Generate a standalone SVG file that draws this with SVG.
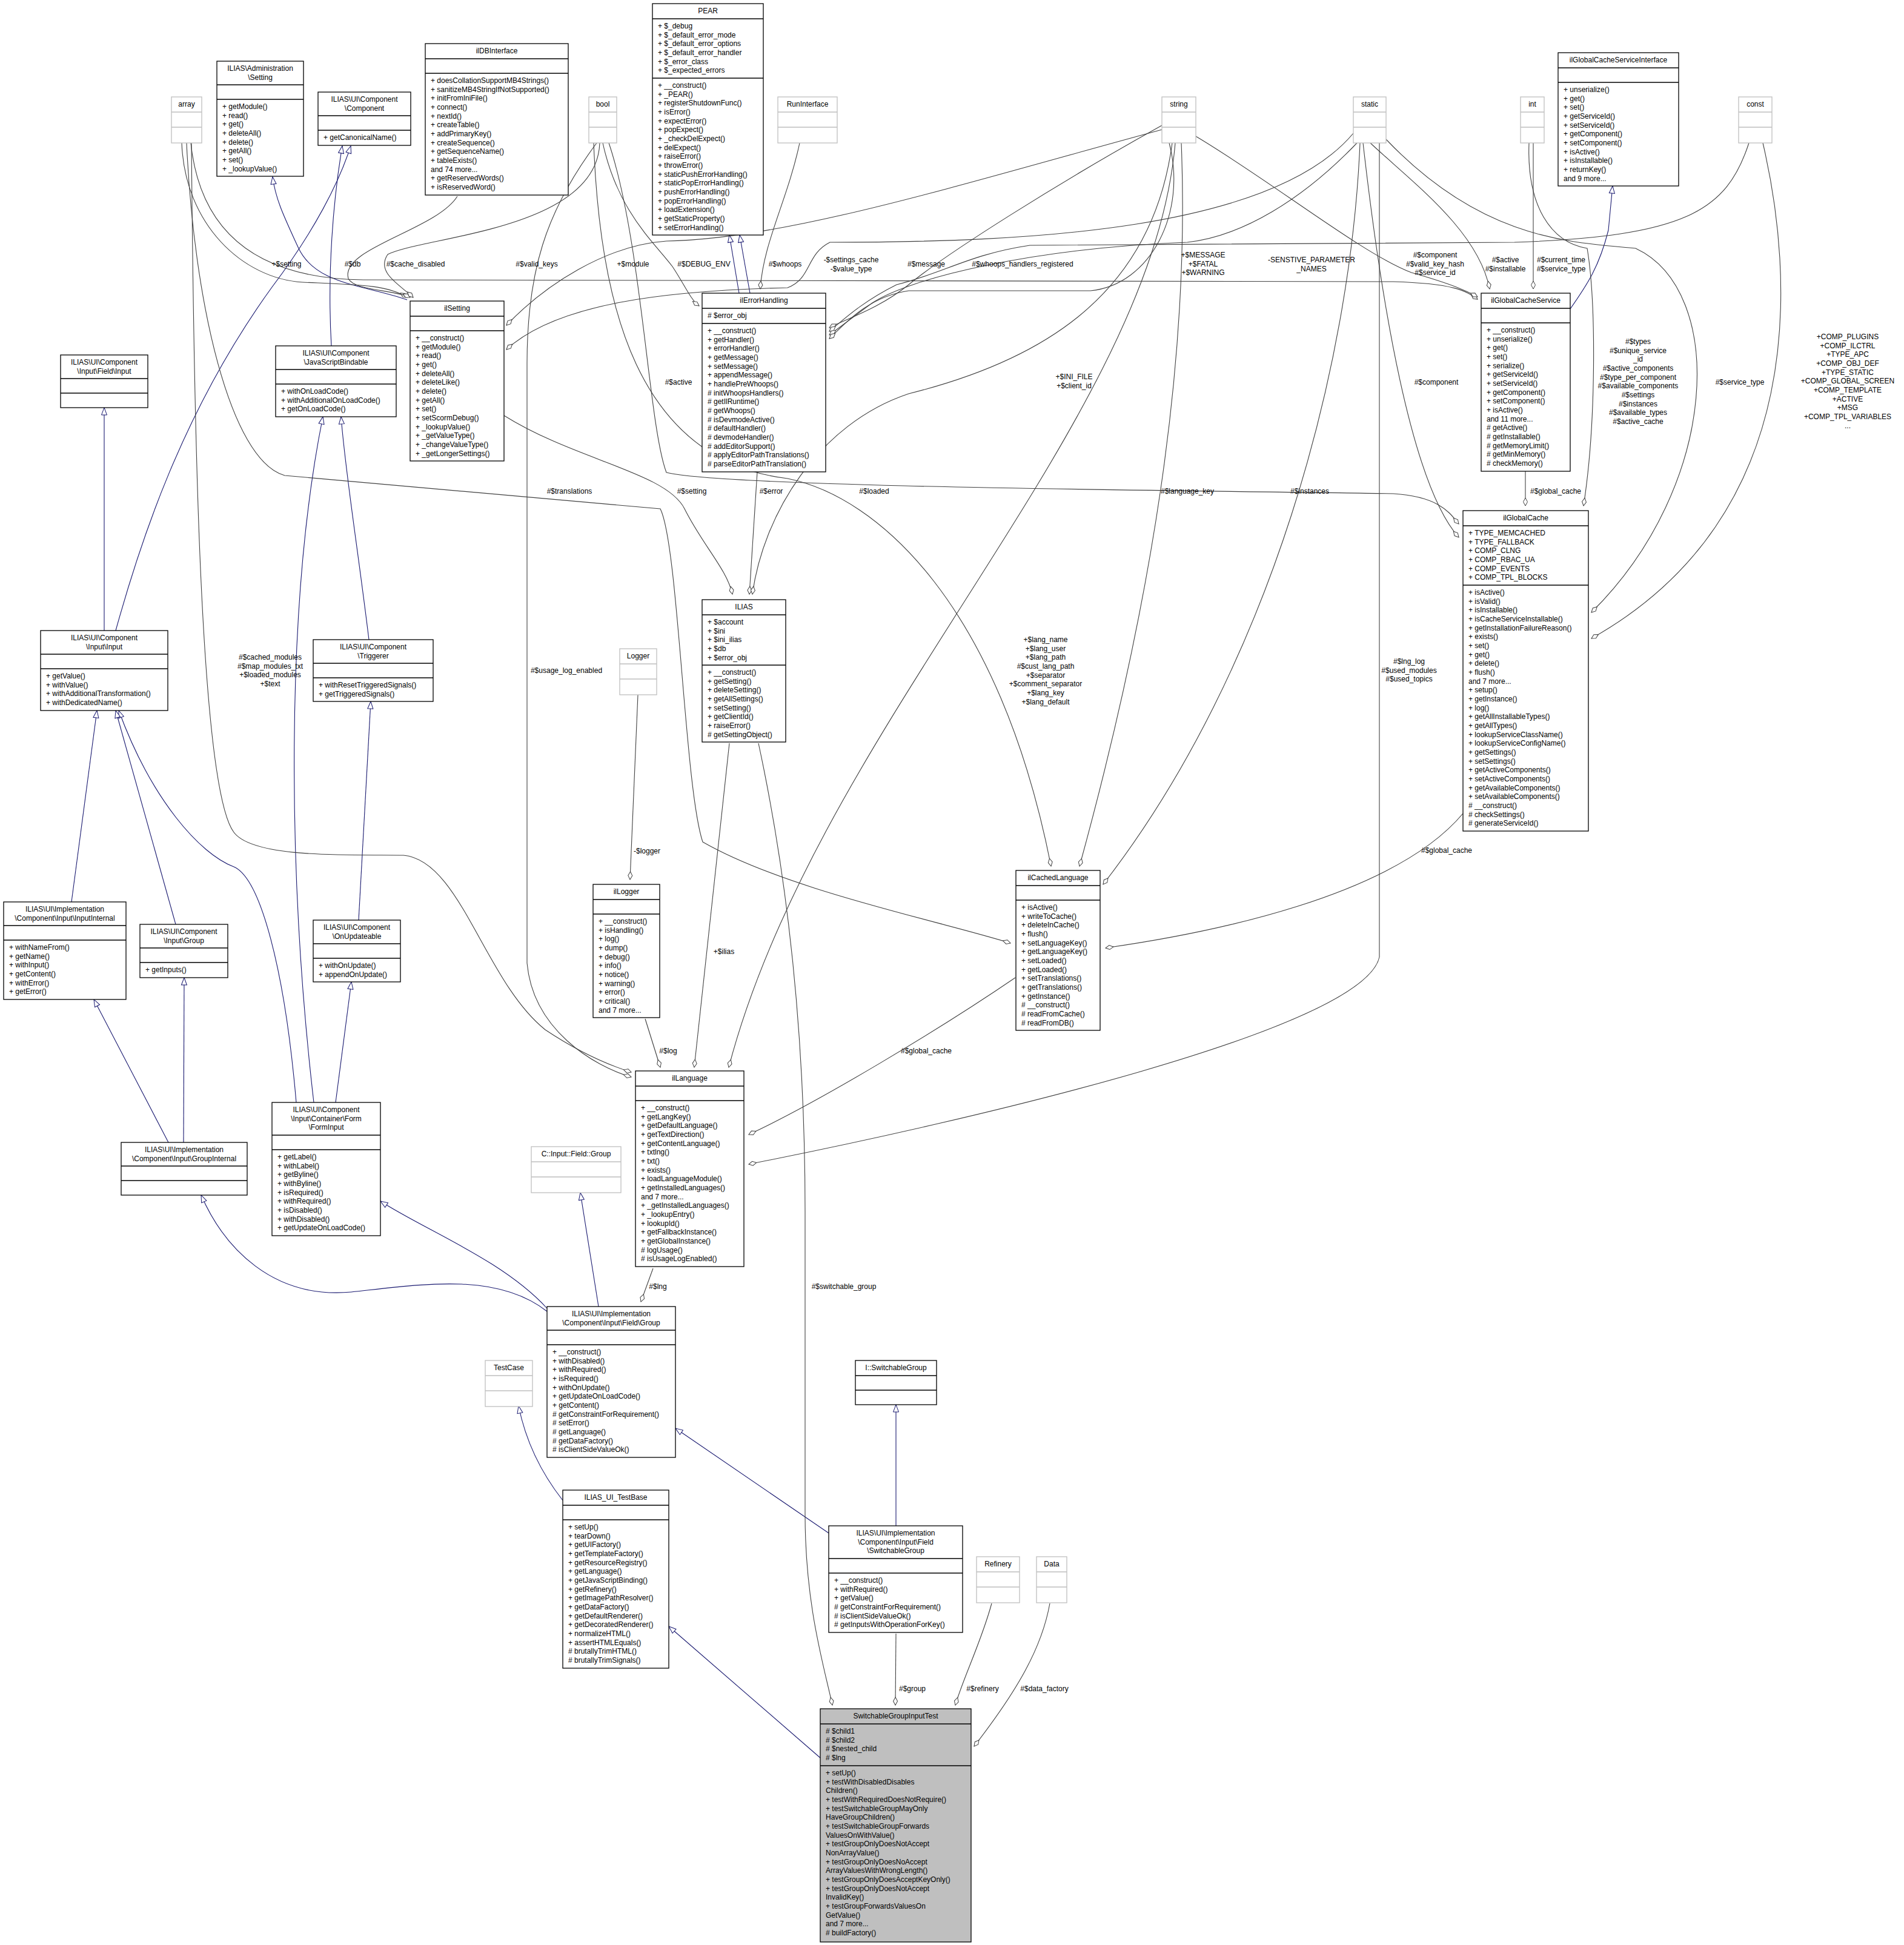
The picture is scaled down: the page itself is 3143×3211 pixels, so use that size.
<svg xmlns="http://www.w3.org/2000/svg" width="3143" height="3211" viewBox="0 0 3143 3211">
<style>
.b{fill:#fff;stroke:#000;stroke-width:1.3}
.s{fill:#bfbfbf;stroke:#000;stroke-width:1.3}
.g{fill:#fff;stroke:#bfbfbf;stroke-width:1.3}
.dl{fill:none;stroke:#000;stroke-width:1.3}
.gl{fill:none;stroke:#bfbfbf;stroke-width:1.3}
text{font-family:"Liberation Sans",Arial,sans-serif;font-size:12px;fill:#000}
.t,.l{text-anchor:middle}
.e{fill:none;stroke:#404040;stroke-width:1.1}
.i{fill:none;stroke:#191970;stroke-width:1.1}
</style>
<defs>
<marker id="d" markerWidth="15" markerHeight="9" refX="14" refY="4.5" orient="auto" markerUnits="userSpaceOnUse"><path d="M1,4.5 L7.5,1 L14,4.5 L7.5,8 Z" fill="#fff" stroke="#404040"/></marker>
<marker id="t" markerWidth="14" markerHeight="11" refX="13" refY="5.5" orient="auto" markerUnits="userSpaceOnUse"><path d="M1,1 L13,5.5 L1,10 Z" fill="#fff" stroke="#191970"/></marker>
</defs>
<rect width="3143" height="3211" fill="#fff"/>
<g id="connectors">
<g class="i" marker-end="url(#t)">
<path d="M672,495 C600,470 520,470 492,408 C470,360 455,330 450,292"/>
<path d="M191,1041 C230,900 300,680 449,474 C520,380 560,300 579,241"/>
<path d="M547,571 C540,450 550,330 565,241"/>
<path d="M172,1041 L172,673"/>
<path d="M609,1056 C590,900 570,780 563,688"/>
<path d="M518,1820 C475,1450 470,1000 533,688"/>
<path d="M554,1820 L580,1621"/>
<path d="M489,1820 C470,1600 430,1450 386,1431 C330,1410 250,1320 196,1173"/>
<path d="M118,1489 L160,1173"/>
<path d="M290,1526 L191,1173"/>
<path d="M592,1519 L612,1158"/>
<path d="M278,1886 L155,1650"/>
<path d="M303,1886 L304,1614"/>
<path d="M903,2165 C820,2100 700,2120 580,2133 C450,2145 370,2060 332,1973"/>
<path d="M903,2160 C830,2080 700,2030 628,1983"/>
<path d="M988,2157 L958,1969"/>
<path d="M1368,2531 L1115,2358"/>
<path d="M1479,2519 L1479,2319"/>
<path d="M929,2477 C900,2440 870,2390 856,2321"/>
<path d="M1354,2902 L1104,2685"/>
<path d="M1220,484 L1204,388"/>
<path d="M1238,484 L1221,388"/>
<path d="M2592,510 C2620,470 2640,440 2655,380 L2662,307"/>
</g>
<g class="e" marker-end="url(#d)">
<path d="M300,236 C305,370 400,460 500,466 C590,470 640,470 672,491"/>
<path d="M755,324 C720,380 560,410 575,460 C585,480 650,478 677,491"/>
<path d="M990,236 C985,380 700,390 640,420 C620,450 660,470 682,491"/>
<path d="M315,236 C330,380 420,460 600,462 L2300,465 C2400,468 2420,480 2439,494"/>
<path d="M1918,214 C1600,300 1300,395 1100,398 C1000,405 900,470 836,537"/>
<path d="M2234,220 C2100,380 1700,400 1370,400 C1330,420 1340,460 1300,475 C1100,480 920,500 836,577"/>
<path d="M995,236 C1020,350 1080,400 1110,440 C1130,470 1140,495 1154,505"/>
<path d="M1320,236 C1300,330 1260,400 1255,477"/>
<path d="M1918,207 C1750,300 1560,420 1500,470 C1450,510 1400,525 1369,541"/>
<path d="M2887,236 C2850,350 2780,390 2500,400 L1700,405 C1600,420 1560,450 1480,470 C1420,500 1390,530 1369,547"/>
<path d="M2240,236 C2150,330 2050,390 1960,400 C1700,410 1500,460 1440,500 C1400,530 1380,545 1369,553"/>
<path d="M1930,236 C1960,350 1900,470 1800,480 L1500,480 C1430,490 1390,540 1369,559"/>
<path d="M1974,225 C2100,300 2250,420 2330,450 C2400,470 2420,480 2439,490"/>
<path d="M2262,236 C2330,300 2440,380 2459,477"/>
<path d="M2531,236 L2531,477"/>
<path d="M2518,778 L2518,835"/>
<path d="M2524,236 C2520,340 2560,400 2620,410 C2635,500 2635,700 2614,835"/>
<path d="M2288,230 C2450,400 2600,400 2700,410 C2850,480 2840,800 2627,1011"/>
<path d="M2910,236 C2960,450 2990,850 2627,1054"/>
<path d="M2250,236 C2280,500 2330,800 2408,887"/>
<path d="M1005,236 C1060,400 1070,700 1100,780 C1200,805 2000,810 2300,815 C2380,820 2395,850 2408,865"/>
<path d="M308,236 C320,500 380,760 470,785 L1090,840 C1120,900 1130,1300 1160,1390 C1300,1470 1550,1520 1668,1557"/>
<path d="M1950,236 C1965,600 1900,1000 1782,1430"/>
<path d="M2245,236 C2230,600 2100,1100 1821,1460"/>
<path d="M980,236 C990,500 1050,760 1300,790 C1450,820 1650,1000 1735,1430"/>
<path d="M2415,1343 C2300,1480 2000,1540 1825,1565"/>
<path d="M1676,1614 C1550,1700 1350,1820 1236,1873"/>
<path d="M2277,236 L2277,1580 C2250,1700 1600,1850 1236,1922"/>
<path d="M316,236 C320,700 330,1300 386,1374 C420,1420 600,1410 666,1412 C760,1420 800,1620 900,1700 C960,1740 1010,1760 1042,1770"/>
<path d="M985,236 C900,350 870,450 870,600 L870,1590 C880,1700 980,1760 1042,1778"/>
<path d="M1053,1147 L1040,1452"/>
<path d="M1065,1682 L1090,1762"/>
<path d="M1204,1227 L1146,1762"/>
<path d="M1940,236 C1900,700 1350,1200 1203,1762"/>
<path d="M832,686 C950,760 1100,780 1130,840 C1160,900 1200,940 1209,981"/>
<path d="M1250,779 L1237,981"/>
<path d="M1935,236 C1900,500 1700,600 1500,650 C1350,700 1260,850 1242,981"/>
<path d="M1252,1227 C1300,1450 1329,1700 1329,2000 L1329,2500 C1329,2650 1360,2750 1374,2815"/>
<path d="M1479,2697 L1478,2815"/>
<path d="M1637,2647 C1620,2710 1590,2770 1577,2815"/>
<path d="M1733,2647 C1720,2720 1680,2790 1608,2883"/>
<path d="M1078,2094 L1058,2149"/>
</g>
<g class="l">
<text x="473" y="440">+$setting</text>
<text x="582" y="440">#$db</text>
<text x="686" y="440">#$cache_disabled</text>
<text x="886" y="440">#$valid_keys</text>
<text x="1045" y="440">+$module</text>
<text x="1162" y="440">#$DEBUG_ENV</text>
<text x="1296" y="440">#$whoops</text>
<text x="1405" y="433">-$settings_cache<tspan x="1405" dy="14.67">-$value_type</tspan></text>
<text x="1529" y="440">#$message</text>
<text x="1688" y="440">#$whoops_handlers_registered</text>
<text x="1986" y="425">+$MESSAGE<tspan x="1986" dy="14.67">+$FATAL</tspan><tspan x="1986" dy="14.67">+$WARNING</tspan></text>
<text x="2165" y="433">-SENSTIVE_PARAMETER<tspan x="2165" dy="14.67">_NAMES</tspan></text>
<text x="2369" y="425">#$component<tspan x="2369" dy="14.67">#$valid_key_hash</tspan><tspan x="2369" dy="14.67">#$service_id</tspan></text>
<text x="2485" y="433">#$active<tspan x="2485" dy="14.67">#$installable</tspan></text>
<text x="2577" y="433">#$current_time<tspan x="2577" dy="14.67">#$service_type</tspan></text>
<text x="1120" y="635">#$active</text>
<text x="1773" y="626">+$INI_FILE<tspan x="1773" dy="14.67">+$client_id</tspan></text>
<text x="2371" y="635">#$component</text>
<text x="2704" y="568">#$types<tspan x="2704" dy="14.67">#$unique_service</tspan><tspan x="2704" dy="14.67">_id</tspan><tspan x="2704" dy="14.67">#$active_components</tspan><tspan x="2704" dy="14.67">#$type_per_component</tspan><tspan x="2704" dy="14.67">#$available_components</tspan><tspan x="2704" dy="14.67">#$settings</tspan><tspan x="2704" dy="14.67">#$instances</tspan><tspan x="2704" dy="14.67">#$available_types</tspan><tspan x="2704" dy="14.67">#$active_cache</tspan></text>
<text x="2872" y="635">#$service_type</text>
<text x="3050" y="560">+COMP_PLUGINS<tspan x="3050" dy="14.67">+COMP_ILCTRL</tspan><tspan x="3050" dy="14.67">+TYPE_APC</tspan><tspan x="3050" dy="14.67">+COMP_OBJ_DEF</tspan><tspan x="3050" dy="14.67">+TYPE_STATIC</tspan><tspan x="3050" dy="14.67">+COMP_GLOBAL_SCREEN</tspan><tspan x="3050" dy="14.67">+COMP_TEMPLATE</tspan><tspan x="3050" dy="14.67">+ACTIVE</tspan><tspan x="3050" dy="14.67">+MSG</tspan><tspan x="3050" dy="14.67">+COMP_TPL_VARIABLES</tspan><tspan x="3050" dy="14.67">...</tspan></text>
<text x="940" y="815">#$translations</text>
<text x="1142" y="815">#$setting</text>
<text x="1273" y="815">#$error</text>
<text x="1443" y="815">#$loaded</text>
<text x="1960" y="815">#$language_key</text>
<text x="2162" y="815">#$instances</text>
<text x="2568" y="815">#$global_cache</text>
<text x="446" y="1089">#$cached_modules<tspan x="446" dy="14.67">#$map_modules_txt</tspan><tspan x="446" dy="14.67">+$loaded_modules</tspan><tspan x="446" dy="14.67">+$text</tspan></text>
<text x="935" y="1111">#$usage_log_enabled</text>
<text x="1068" y="1409">-$logger</text>
<text x="1726" y="1060">+$lang_name<tspan x="1726" dy="14.67">+$lang_user</tspan><tspan x="1726" dy="14.67">+$lang_path</tspan><tspan x="1726" dy="14.67">#$cust_lang_path</tspan><tspan x="1726" dy="14.67">+$separator</tspan><tspan x="1726" dy="14.67">+$comment_separator</tspan><tspan x="1726" dy="14.67">+$lang_key</tspan><tspan x="1726" dy="14.67">+$lang_default</tspan></text>
<text x="1195" y="1575">+$ilias</text>
<text x="1103" y="1739">#$log</text>
<text x="1529" y="1739">#$global_cache</text>
<text x="2326" y="1096">#$lng_log<tspan x="2326" dy="14.67">#$used_modules</tspan><tspan x="2326" dy="14.67">#$used_topics</tspan></text>
<text x="2388" y="1408">#$global_cache</text>
<text x="1086" y="2128">#$lng</text>
<text x="1393" y="2128">#$switchable_group</text>
<text x="1506" y="2792">#$group</text>
<text x="1622" y="2792">#$refinery</text>
<text x="1724" y="2792">#$data_factory</text>
</g>
</g>
<g id="array"><rect class="g" x="283" y="160" width="50" height="76"/><path class="gl" d="M283 185H333M283 210H333"/><text class="t" x="308" y="176">array</text></g>
<g id="bool"><rect class="g" x="972" y="160" width="46" height="76"/><path class="gl" d="M972 185H1018M972 210H1018"/><text class="t" x="995" y="176">bool</text></g>
<g id="RunInterface"><rect class="g" x="1284" y="160" width="98" height="76"/><path class="gl" d="M1284 185H1382M1284 210H1382"/><text class="t" x="1333" y="176">RunInterface</text></g>
<g id="string"><rect class="g" x="1918" y="160" width="56" height="76"/><path class="gl" d="M1918 185H1974M1918 210H1974"/><text class="t" x="1946" y="176">string</text></g>
<g id="static"><rect class="g" x="2234" y="160" width="54" height="76"/><path class="gl" d="M2234 185H2288M2234 210H2288"/><text class="t" x="2261" y="176">static</text></g>
<g id="int"><rect class="g" x="2510" y="160" width="39" height="76"/><path class="gl" d="M2510 185H2549M2510 210H2549"/><text class="t" x="2529.5" y="176">int</text></g>
<g id="const"><rect class="g" x="2870" y="160" width="55" height="76"/><path class="gl" d="M2870 185H2925M2870 210H2925"/><text class="t" x="2897.5" y="176">const</text></g>
<g id="Logger"><rect class="g" x="1023" y="1071" width="61" height="76"/><path class="gl" d="M1023 1096H1084M1023 1121H1084"/><text class="t" x="1053.5" y="1087">Logger</text></g>
<g id="CInputFieldGroup"><rect class="g" x="877" y="1893" width="148" height="76"/><path class="gl" d="M877 1918H1025M877 1943H1025"/><text class="t" x="951" y="1909">C::Input::Field::Group</text></g>
<g id="TestCase"><rect class="g" x="801" y="2246" width="78" height="76"/><path class="gl" d="M801 2271H879M801 2296H879"/><text class="t" x="840" y="2262">TestCase</text></g>
<g id="Refinery"><rect class="g" x="1612" y="2570" width="71" height="76"/><path class="gl" d="M1612 2595H1683M1612 2620H1683"/><text class="t" x="1647.5" y="2586">Refinery</text></g>
<g id="Data"><rect class="g" x="1711" y="2570" width="50" height="76"/><path class="gl" d="M1711 2595H1761M1711 2620H1761"/><text class="t" x="1736" y="2586">Data</text></g>

<g id="PEAR"><rect class="b" x="1077" y="6" width="183" height="382"/><path class="dl" d="M1077 31H1260M1077 129H1260"/><text class="t" x="1168.5" y="22">PEAR</text>
<text x="1086" y="47">+ $_debug<tspan x="1086" dy="14.67">+ $_default_error_mode</tspan><tspan x="1086" dy="14.67">+ $_default_error_options</tspan><tspan x="1086" dy="14.67">+ $_default_error_handler</tspan><tspan x="1086" dy="14.67">+ $_error_class</tspan><tspan x="1086" dy="14.67">+ $_expected_errors</tspan></text>
<text x="1086" y="145">+ __construct()<tspan x="1086" dy="14.67">+ _PEAR()</tspan><tspan x="1086" dy="14.67">+ registerShutdownFunc()</tspan><tspan x="1086" dy="14.67">+ isError()</tspan><tspan x="1086" dy="14.67">+ expectError()</tspan><tspan x="1086" dy="14.67">+ popExpect()</tspan><tspan x="1086" dy="14.67">+ _checkDelExpect()</tspan><tspan x="1086" dy="14.67">+ delExpect()</tspan><tspan x="1086" dy="14.67">+ raiseError()</tspan><tspan x="1086" dy="14.67">+ throwError()</tspan><tspan x="1086" dy="14.67">+ staticPushErrorHandling()</tspan><tspan x="1086" dy="14.67">+ staticPopErrorHandling()</tspan><tspan x="1086" dy="14.67">+ pushErrorHandling()</tspan><tspan x="1086" dy="14.67">+ popErrorHandling()</tspan><tspan x="1086" dy="14.67">+ loadExtension()</tspan><tspan x="1086" dy="14.67">+ getStaticProperty()</tspan><tspan x="1086" dy="14.67">+ setErrorHandling()</tspan></text></g>

<g id="ilDBInterface"><rect class="b" x="702" y="72" width="236" height="250"/><path class="dl" d="M702 97H938M702 121H938"/><text class="t" x="820" y="88">ilDBInterface</text>
<text x="711" y="137">+ doesCollationSupportMB4Strings()<tspan x="711" dy="14.67">+ sanitizeMB4StringIfNotSupported()</tspan><tspan x="711" dy="14.67">+ initFromIniFile()</tspan><tspan x="711" dy="14.67">+ connect()</tspan><tspan x="711" dy="14.67">+ nextId()</tspan><tspan x="711" dy="14.67">+ createTable()</tspan><tspan x="711" dy="14.67">+ addPrimaryKey()</tspan><tspan x="711" dy="14.67">+ createSequence()</tspan><tspan x="711" dy="14.67">+ getSequenceName()</tspan><tspan x="711" dy="14.67">+ tableExists()</tspan><tspan x="711" dy="14.67">and 74 more...</tspan><tspan x="711" dy="14.67">+ getReservedWords()</tspan><tspan x="711" dy="14.67">+ isReservedWord()</tspan></text></g>

<g id="AdminSetting"><rect class="b" x="358" y="101" width="143" height="190"/><path class="dl" d="M358 140H501M358 164H501"/><text class="t" x="429.5" y="117">ILIAS\Administration<tspan x="429.5" dy="14.67">\Setting</tspan></text>
<text x="367" y="180">+ getModule()<tspan x="367" dy="14.67">+ read()</tspan><tspan x="367" dy="14.67">+ get()</tspan><tspan x="367" dy="14.67">+ deleteAll()</tspan><tspan x="367" dy="14.67">+ delete()</tspan><tspan x="367" dy="14.67">+ getAll()</tspan><tspan x="367" dy="14.67">+ set()</tspan><tspan x="367" dy="14.67">+ _lookupValue()</tspan></text></g>

<g id="Component"><rect class="b" x="525" y="152" width="153" height="88"/><path class="dl" d="M525 191H678M525 215H678"/><text class="t" x="601.5" y="168">ILIAS\UI\Component<tspan x="601.5" dy="14.67">\Component</tspan></text><text x="534" y="231">+ getCanonicalName()</text></g>

<g id="ilGlobalCacheServiceInterface"><rect class="b" x="2572" y="87" width="199" height="220"/><path class="dl" d="M2572 112H2771M2572 136H2771"/><text class="t" x="2671.5" y="103">ilGlobalCacheServiceInterface</text>
<text x="2581" y="152">+ unserialize()<tspan x="2581" dy="14.67">+ get()</tspan><tspan x="2581" dy="14.67">+ set()</tspan><tspan x="2581" dy="14.67">+ getServiceId()</tspan><tspan x="2581" dy="14.67">+ setServiceId()</tspan><tspan x="2581" dy="14.67">+ getComponent()</tspan><tspan x="2581" dy="14.67">+ setComponent()</tspan><tspan x="2581" dy="14.67">+ isActive()</tspan><tspan x="2581" dy="14.67">+ isInstallable()</tspan><tspan x="2581" dy="14.67">+ returnKey()</tspan><tspan x="2581" dy="14.67">and 9 more...</tspan></text></g>

<g id="ilSetting"><rect class="b" x="677" y="497" width="155" height="264"/><path class="dl" d="M677 522H832M677 546H832"/><text class="t" x="754.5" y="513">ilSetting</text>
<text x="686" y="562">+ __construct()<tspan x="686" dy="14.67">+ getModule()</tspan><tspan x="686" dy="14.67">+ read()</tspan><tspan x="686" dy="14.67">+ get()</tspan><tspan x="686" dy="14.67">+ deleteAll()</tspan><tspan x="686" dy="14.67">+ deleteLike()</tspan><tspan x="686" dy="14.67">+ delete()</tspan><tspan x="686" dy="14.67">+ getAll()</tspan><tspan x="686" dy="14.67">+ set()</tspan><tspan x="686" dy="14.67">+ setScormDebug()</tspan><tspan x="686" dy="14.67">+ _lookupValue()</tspan><tspan x="686" dy="14.67">+ _getValueType()</tspan><tspan x="686" dy="14.67">+ _changeValueType()</tspan><tspan x="686" dy="14.67">+ _getLongerSettings()</tspan></text></g>

<g id="ilErrorHandling"><rect class="b" x="1159" y="484" width="204" height="295"/><path class="dl" d="M1159 509H1363M1159 534H1363"/><text class="t" x="1261" y="500">ilErrorHandling</text><text x="1168" y="525"># $error_obj</text>
<text x="1168" y="550">+ __construct()<tspan x="1168" dy="14.67">+ getHandler()</tspan><tspan x="1168" dy="14.67">+ errorHandler()</tspan><tspan x="1168" dy="14.67">+ getMessage()</tspan><tspan x="1168" dy="14.67">+ setMessage()</tspan><tspan x="1168" dy="14.67">+ appendMessage()</tspan><tspan x="1168" dy="14.67">+ handlePreWhoops()</tspan><tspan x="1168" dy="14.67"># initWhoopsHandlers()</tspan><tspan x="1168" dy="14.67"># getIlRuntime()</tspan><tspan x="1168" dy="14.67"># getWhoops()</tspan><tspan x="1168" dy="14.67"># isDevmodeActive()</tspan><tspan x="1168" dy="14.67"># defaultHandler()</tspan><tspan x="1168" dy="14.67"># devmodeHandler()</tspan><tspan x="1168" dy="14.67"># addEditorSupport()</tspan><tspan x="1168" dy="14.67"># applyEditorPathTranslations()</tspan><tspan x="1168" dy="14.67"># parseEditorPathTranslation()</tspan></text></g>

<g id="ilGlobalCacheService"><rect class="b" x="2445" y="484" width="147" height="294"/><path class="dl" d="M2445 509H2592M2445 533H2592"/><text class="t" x="2518.5" y="500">ilGlobalCacheService</text>
<text x="2454" y="549">+ __construct()<tspan x="2454" dy="14.67">+ unserialize()</tspan><tspan x="2454" dy="14.67">+ get()</tspan><tspan x="2454" dy="14.67">+ set()</tspan><tspan x="2454" dy="14.67">+ serialize()</tspan><tspan x="2454" dy="14.67">+ getServiceId()</tspan><tspan x="2454" dy="14.67">+ setServiceId()</tspan><tspan x="2454" dy="14.67">+ getComponent()</tspan><tspan x="2454" dy="14.67">+ setComponent()</tspan><tspan x="2454" dy="14.67">+ isActive()</tspan><tspan x="2454" dy="14.67">and 11 more...</tspan><tspan x="2454" dy="14.67"># getActive()</tspan><tspan x="2454" dy="14.67"># getInstallable()</tspan><tspan x="2454" dy="14.67"># getMemoryLimit()</tspan><tspan x="2454" dy="14.67"># getMinMemory()</tspan><tspan x="2454" dy="14.67"># checkMemory()</tspan></text></g>

<g id="FieldInput"><rect class="b" x="100" y="586" width="144" height="87"/><path class="dl" d="M100 625H244M100 649H244"/><text class="t" x="172" y="602">ILIAS\UI\Component<tspan x="172" dy="14.67">\Input\Field\Input</tspan></text></g>

<g id="JavaScriptBindable"><rect class="b" x="455" y="571" width="199" height="117"/><path class="dl" d="M455 610H654M455 634H654"/><text class="t" x="554.5" y="587">ILIAS\UI\Component<tspan x="554.5" dy="14.67">\JavaScriptBindable</tspan></text>
<text x="464" y="650">+ withOnLoadCode()<tspan x="464" dy="14.67">+ withAdditionalOnLoadCode()</tspan><tspan x="464" dy="14.67">+ getOnLoadCode()</tspan></text></g>

<g id="InputInput"><rect class="b" x="67" y="1041" width="210" height="132"/><path class="dl" d="M67 1080H277M67 1104H277"/><text class="t" x="172" y="1057">ILIAS\UI\Component<tspan x="172" dy="14.67">\Input\Input</tspan></text>
<text x="76" y="1120">+ getValue()<tspan x="76" dy="14.67">+ withValue()</tspan><tspan x="76" dy="14.67">+ withAdditionalTransformation()</tspan><tspan x="76" dy="14.67">+ withDedicatedName()</tspan></text></g>

<g id="Triggerer"><rect class="b" x="517" y="1056" width="198" height="102"/><path class="dl" d="M517 1095H715M517 1119H715"/><text class="t" x="616" y="1072">ILIAS\UI\Component<tspan x="616" dy="14.67">\Triggerer</tspan></text>
<text x="526" y="1135">+ withResetTriggeredSignals()<tspan x="526" dy="14.67">+ getTriggeredSignals()</tspan></text></g>

<g id="ILIAS"><rect class="b" x="1159" y="990" width="138" height="235"/><path class="dl" d="M1159 1015H1297M1159 1098H1297"/><text class="t" x="1228" y="1006">ILIAS</text>
<text x="1168" y="1031">+ $account<tspan x="1168" dy="14.67">+ $ini</tspan><tspan x="1168" dy="14.67">+ $ini_ilias</tspan><tspan x="1168" dy="14.67">+ $db</tspan><tspan x="1168" dy="14.67">+ $error_obj</tspan></text>
<text x="1168" y="1114">+ __construct()<tspan x="1168" dy="14.67">+ getSetting()</tspan><tspan x="1168" dy="14.67">+ deleteSetting()</tspan><tspan x="1168" dy="14.67">+ getAllSettings()</tspan><tspan x="1168" dy="14.67">+ setSetting()</tspan><tspan x="1168" dy="14.67">+ getClientId()</tspan><tspan x="1168" dy="14.67">+ raiseError()</tspan><tspan x="1168" dy="14.67"># getSettingObject()</tspan></text></g>

<g id="ilCachedLanguage"><rect class="b" x="1677" y="1437" width="139" height="264"/><path class="dl" d="M1677 1462H1816M1677 1486H1816"/><text class="t" x="1746.5" y="1453">ilCachedLanguage</text>
<text x="1686" y="1502">+ isActive()<tspan x="1686" dy="14.67">+ writeToCache()</tspan><tspan x="1686" dy="14.67">+ deleteInCache()</tspan><tspan x="1686" dy="14.67">+ flush()</tspan><tspan x="1686" dy="14.67">+ setLanguageKey()</tspan><tspan x="1686" dy="14.67">+ getLanguageKey()</tspan><tspan x="1686" dy="14.67">+ setLoaded()</tspan><tspan x="1686" dy="14.67">+ getLoaded()</tspan><tspan x="1686" dy="14.67">+ setTranslations()</tspan><tspan x="1686" dy="14.67">+ getTranslations()</tspan><tspan x="1686" dy="14.67">+ getInstance()</tspan><tspan x="1686" dy="14.67"># __construct()</tspan><tspan x="1686" dy="14.67"># readFromCache()</tspan><tspan x="1686" dy="14.67"># readFromDB()</tspan></text></g>

<g id="ilGlobalCache"><rect class="b" x="2415" y="843" width="207" height="529"/><path class="dl" d="M2415 868H2622M2415 966H2622"/><text class="t" x="2518.5" y="859">ilGlobalCache</text>
<text x="2424" y="884">+ TYPE_MEMCACHED<tspan x="2424" dy="14.67">+ TYPE_FALLBACK</tspan><tspan x="2424" dy="14.67">+ COMP_CLNG</tspan><tspan x="2424" dy="14.67">+ COMP_RBAC_UA</tspan><tspan x="2424" dy="14.67">+ COMP_EVENTS</tspan><tspan x="2424" dy="14.67">+ COMP_TPL_BLOCKS</tspan></text>
<text x="2424" y="982">+ isActive()<tspan x="2424" dy="14.67">+ isValid()</tspan><tspan x="2424" dy="14.67">+ isInstallable()</tspan><tspan x="2424" dy="14.67">+ isCacheServiceInstallable()</tspan><tspan x="2424" dy="14.67">+ getInstallationFailureReason()</tspan><tspan x="2424" dy="14.67">+ exists()</tspan><tspan x="2424" dy="14.67">+ set()</tspan><tspan x="2424" dy="14.67">+ get()</tspan><tspan x="2424" dy="14.67">+ delete()</tspan><tspan x="2424" dy="14.67">+ flush()</tspan><tspan x="2424" dy="14.67">and 7 more...</tspan><tspan x="2424" dy="14.67">+ setup()</tspan><tspan x="2424" dy="14.67">+ getInstance()</tspan><tspan x="2424" dy="14.67">+ log()</tspan><tspan x="2424" dy="14.67">+ getAllInstallableTypes()</tspan><tspan x="2424" dy="14.67">+ getAllTypes()</tspan><tspan x="2424" dy="14.67">+ lookupServiceClassName()</tspan><tspan x="2424" dy="14.67">+ lookupServiceConfigName()</tspan><tspan x="2424" dy="14.67">+ getSettings()</tspan><tspan x="2424" dy="14.67">+ setSettings()</tspan><tspan x="2424" dy="14.67">+ getActiveComponents()</tspan><tspan x="2424" dy="14.67">+ setActiveComponents()</tspan><tspan x="2424" dy="14.67">+ getAvailableComponents()</tspan><tspan x="2424" dy="14.67">+ setAvailableComponents()</tspan><tspan x="2424" dy="14.67"># __construct()</tspan><tspan x="2424" dy="14.67"># checkSettings()</tspan><tspan x="2424" dy="14.67"># generateServiceId()</tspan></text></g>

<g id="ilLogger"><rect class="b" x="979" y="1460" width="110" height="220"/><path class="dl" d="M979 1485H1089M979 1509H1089"/><text class="t" x="1034" y="1476">ilLogger</text>
<text x="988" y="1525">+ __construct()<tspan x="988" dy="14.67">+ isHandling()</tspan><tspan x="988" dy="14.67">+ log()</tspan><tspan x="988" dy="14.67">+ dump()</tspan><tspan x="988" dy="14.67">+ debug()</tspan><tspan x="988" dy="14.67">+ info()</tspan><tspan x="988" dy="14.67">+ notice()</tspan><tspan x="988" dy="14.67">+ warning()</tspan><tspan x="988" dy="14.67">+ error()</tspan><tspan x="988" dy="14.67">+ critical()</tspan><tspan x="988" dy="14.67">and 7 more...</tspan></text></g>

<g id="InputInternal"><rect class="b" x="6" y="1489" width="202" height="161"/><path class="dl" d="M6 1528H208M6 1552H208"/><text class="t" x="107" y="1505">ILIAS\UI\Implementation<tspan x="107" dy="14.67">\Component\Input\InputInternal</tspan></text>
<text x="15" y="1568">+ withNameFrom()<tspan x="15" dy="14.67">+ getName()</tspan><tspan x="15" dy="14.67">+ withInput()</tspan><tspan x="15" dy="14.67">+ getContent()</tspan><tspan x="15" dy="14.67">+ withError()</tspan><tspan x="15" dy="14.67">+ getError()</tspan></text></g>

<g id="InputGroup"><rect class="b" x="231" y="1526" width="145" height="88"/><path class="dl" d="M231 1565H376M231 1589H376"/><text class="t" x="303.5" y="1542">ILIAS\UI\Component<tspan x="303.5" dy="14.67">\Input\Group</tspan></text><text x="240" y="1605">+ getInputs()</text></g>

<g id="OnUpdateable"><rect class="b" x="517" y="1519" width="144" height="102"/><path class="dl" d="M517 1558H661M517 1582H661"/><text class="t" x="589" y="1535">ILIAS\UI\Component<tspan x="589" dy="14.67">\OnUpdateable</tspan></text>
<text x="526" y="1598">+ withOnUpdate()<tspan x="526" dy="14.67">+ appendOnUpdate()</tspan></text></g>

<g id="FormInput"><rect class="b" x="449" y="1820" width="179" height="220"/><path class="dl" d="M449 1874H628M449 1898H628"/><text class="t" x="538.5" y="1836">ILIAS\UI\Component<tspan x="538.5" dy="14.67">\Input\Container\Form</tspan><tspan x="538.5" dy="14.67">\FormInput</tspan></text>
<text x="458" y="1914">+ getLabel()<tspan x="458" dy="14.67">+ withLabel()</tspan><tspan x="458" dy="14.67">+ getByline()</tspan><tspan x="458" dy="14.67">+ withByline()</tspan><tspan x="458" dy="14.67">+ isRequired()</tspan><tspan x="458" dy="14.67">+ withRequired()</tspan><tspan x="458" dy="14.67">+ isDisabled()</tspan><tspan x="458" dy="14.67">+ withDisabled()</tspan><tspan x="458" dy="14.67">+ getUpdateOnLoadCode()</tspan></text></g>

<g id="GroupInternal"><rect class="b" x="200" y="1886" width="208" height="87"/><path class="dl" d="M200 1925H408M200 1949H408"/><text class="t" x="304" y="1902">ILIAS\UI\Implementation<tspan x="304" dy="14.67">\Component\Input\GroupInternal</tspan></text></g>

<g id="ilLanguage"><rect class="b" x="1049" y="1768" width="179" height="323"/><path class="dl" d="M1049 1793H1228M1049 1817H1228"/><text class="t" x="1138.5" y="1784">ilLanguage</text>
<text x="1058" y="1833">+ __construct()<tspan x="1058" dy="14.67">+ getLangKey()</tspan><tspan x="1058" dy="14.67">+ getDefaultLanguage()</tspan><tspan x="1058" dy="14.67">+ getTextDirection()</tspan><tspan x="1058" dy="14.67">+ getContentLanguage()</tspan><tspan x="1058" dy="14.67">+ txtlng()</tspan><tspan x="1058" dy="14.67">+ txt()</tspan><tspan x="1058" dy="14.67">+ exists()</tspan><tspan x="1058" dy="14.67">+ loadLanguageModule()</tspan><tspan x="1058" dy="14.67">+ getInstalledLanguages()</tspan><tspan x="1058" dy="14.67">and 7 more...</tspan><tspan x="1058" dy="14.67">+ _getInstalledLanguages()</tspan><tspan x="1058" dy="14.67">+ _lookupEntry()</tspan><tspan x="1058" dy="14.67">+ lookupId()</tspan><tspan x="1058" dy="14.67">+ getFallbackInstance()</tspan><tspan x="1058" dy="14.67">+ getGlobalInstance()</tspan><tspan x="1058" dy="14.67"># logUsage()</tspan><tspan x="1058" dy="14.67"># isUsageLogEnabled()</tspan></text></g>

<g id="FieldGroup"><rect class="b" x="903" y="2157" width="212" height="249"/><path class="dl" d="M903 2196H1115M903 2220H1115"/><text class="t" x="1009" y="2173">ILIAS\UI\Implementation<tspan x="1009" dy="14.67">\Component\Input\Field\Group</tspan></text>
<text x="912" y="2236">+ __construct()<tspan x="912" dy="14.67">+ withDisabled()</tspan><tspan x="912" dy="14.67">+ withRequired()</tspan><tspan x="912" dy="14.67">+ isRequired()</tspan><tspan x="912" dy="14.67">+ withOnUpdate()</tspan><tspan x="912" dy="14.67">+ getUpdateOnLoadCode()</tspan><tspan x="912" dy="14.67">+ getContent()</tspan><tspan x="912" dy="14.67"># getConstraintForRequirement()</tspan><tspan x="912" dy="14.67"># setError()</tspan><tspan x="912" dy="14.67"># getLanguage()</tspan><tspan x="912" dy="14.67"># getDataFactory()</tspan><tspan x="912" dy="14.67"># isClientSideValueOk()</tspan></text></g>

<g id="ISwitchableGroup"><rect class="b" x="1412" y="2246" width="134" height="73"/><path class="dl" d="M1412 2271H1546M1412 2295H1546"/><text class="t" x="1479" y="2262">I::SwitchableGroup</text></g>

<g id="ILIAS_UI_TestBase"><rect class="b" x="929" y="2460" width="175" height="294"/><path class="dl" d="M929 2485H1104M929 2509H1104"/><text class="t" x="1016.5" y="2476">ILIAS_UI_TestBase</text>
<text x="938" y="2525">+ setUp()<tspan x="938" dy="14.67">+ tearDown()</tspan><tspan x="938" dy="14.67">+ getUIFactory()</tspan><tspan x="938" dy="14.67">+ getTemplateFactory()</tspan><tspan x="938" dy="14.67">+ getResourceRegistry()</tspan><tspan x="938" dy="14.67">+ getLanguage()</tspan><tspan x="938" dy="14.67">+ getJavaScriptBinding()</tspan><tspan x="938" dy="14.67">+ getRefinery()</tspan><tspan x="938" dy="14.67">+ getImagePathResolver()</tspan><tspan x="938" dy="14.67">+ getDataFactory()</tspan><tspan x="938" dy="14.67">+ getDefaultRenderer()</tspan><tspan x="938" dy="14.67">+ getDecoratedRenderer()</tspan><tspan x="938" dy="14.67">+ normalizeHTML()</tspan><tspan x="938" dy="14.67">+ assertHTMLEquals()</tspan><tspan x="938" dy="14.67"># brutallyTrimHTML()</tspan><tspan x="938" dy="14.67"># brutallyTrimSignals()</tspan></text></g>

<g id="SwitchableGroup"><rect class="b" x="1368" y="2519" width="221" height="176"/><path class="dl" d="M1368 2573H1589M1368 2597H1589"/><text class="t" x="1478.5" y="2535">ILIAS\UI\Implementation<tspan x="1478.5" dy="14.67">\Component\Input\Field</tspan><tspan x="1478.5" dy="14.67">\SwitchableGroup</tspan></text>
<text x="1377" y="2613">+ __construct()<tspan x="1377" dy="14.67">+ withRequired()</tspan><tspan x="1377" dy="14.67">+ getValue()</tspan><tspan x="1377" dy="14.67"># getConstraintForRequirement()</tspan><tspan x="1377" dy="14.67"># isClientSideValueOk()</tspan><tspan x="1377" dy="14.67"># getInputsWithOperationForKey()</tspan></text></g>

<g id="SwitchableGroupInputTest"><rect class="s" x="1354" y="2821" width="249" height="385"/><path class="dl" d="M1354 2846H1603M1354 2915H1603"/><text class="t" x="1478.5" y="2837">SwitchableGroupInputTest</text>
<text x="1363" y="2862"># $child1<tspan x="1363" dy="14.67"># $child2</tspan><tspan x="1363" dy="14.67"># $nested_child</tspan><tspan x="1363" dy="14.67"># $lng</tspan></text>
<text x="1363" y="2931">+ setUp()<tspan x="1363" dy="14.67">+ testWithDisabledDisables</tspan><tspan x="1363" dy="14.67">Children()</tspan><tspan x="1363" dy="14.67">+ testWithRequiredDoesNotRequire()</tspan><tspan x="1363" dy="14.67">+ testSwitchableGroupMayOnly</tspan><tspan x="1363" dy="14.67">HaveGroupChildren()</tspan><tspan x="1363" dy="14.67">+ testSwitchableGroupForwards</tspan><tspan x="1363" dy="14.67">ValuesOnWithValue()</tspan><tspan x="1363" dy="14.67">+ testGroupOnlyDoesNotAccept</tspan><tspan x="1363" dy="14.67">NonArrayValue()</tspan><tspan x="1363" dy="14.67">+ testGroupOnlyDoesNoAccept</tspan><tspan x="1363" dy="14.67">ArrayValuesWithWrongLength()</tspan><tspan x="1363" dy="14.67">+ testGroupOnlyDoesAcceptKeyOnly()</tspan><tspan x="1363" dy="14.67">+ testGroupOnlyDoesNotAccept</tspan><tspan x="1363" dy="14.67">InvalidKey()</tspan><tspan x="1363" dy="14.67">+ testGroupForwardsValuesOn</tspan><tspan x="1363" dy="14.67">GetValue()</tspan><tspan x="1363" dy="14.67">and 7 more...</tspan><tspan x="1363" dy="14.67"># buildFactory()</tspan></text></g>
</svg>
